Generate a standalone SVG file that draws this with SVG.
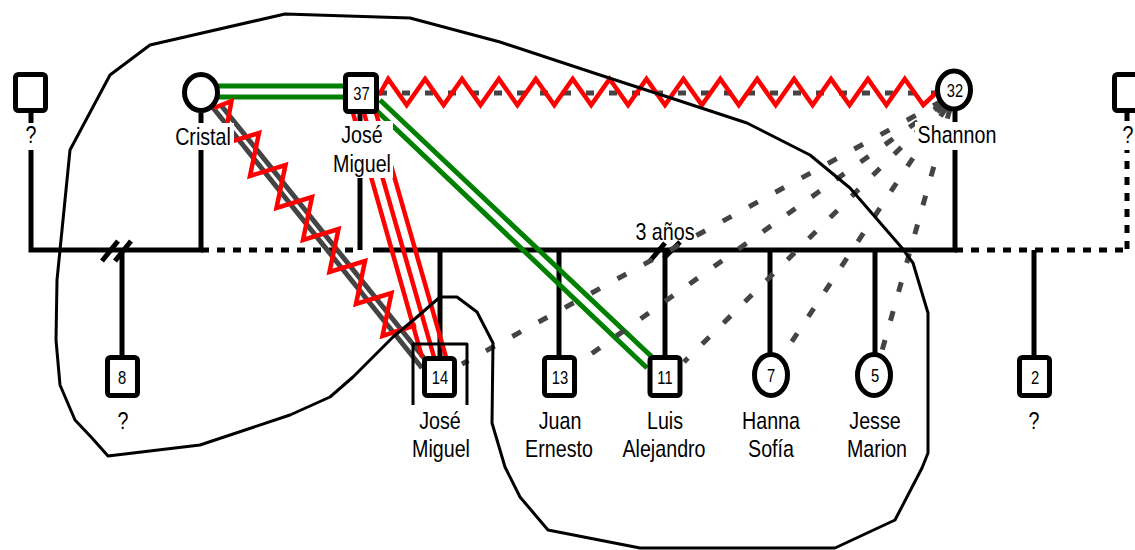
<svg xmlns="http://www.w3.org/2000/svg" width="1135" height="550" viewBox="0 0 1135 550">
<style>
.fam{fill:none;stroke:#000;stroke-width:5}
.dot{fill:none;stroke:#000;stroke-width:5;stroke-dasharray:8 8}
.green{fill:none;stroke:#008000;stroke-width:5}
.red{fill:none;stroke:#f00;stroke-width:4.5;stroke-linejoin:miter}
.gray{fill:none;stroke:#444;stroke-width:5}
.gdash{fill:none;stroke:#444;stroke-width:5;stroke-dasharray:10 20}
.hdash{fill:none;stroke:#444;stroke-width:5;stroke-dasharray:8 15}
.outline{fill:none;stroke:#000;stroke-width:3;stroke-linejoin:round}
.node{fill:#fff;stroke:#000;stroke-width:5}
.bg{fill:#fff}
.lbl{font-family:"Liberation Sans",Arial,sans-serif;font-size:24px;text-anchor:middle;fill:#000}
.num{font-family:"Liberation Sans",Arial,sans-serif;font-size:18px;text-anchor:middle;fill:#000}
</style>
<g id="connectors">
  <path class="fam" d="M31,113 V250 H201 V113"/>
  <path class="fam" d="M102,261 L118,241 M115,261 L131,241"/>
  <path class="fam" d="M122,250 V356"/>
  <path class="dot" d="M201,250 H360"/>
  <path class="fam" d="M360,113 V250"/>
  <path class="fam" d="M373,250 H955 V111"/>
  <path class="fam" d="M440,250 V357 M559,250 V356 M665,250 V356 M770,250 V356 M875,250 V356"/>
  <path class="fam" d="M650,261 L665,243 M664,258 L680,242"/>
  <path class="dot" d="M955,250 H1127"/>
  <path class="dot" d="M1127,113 V250"/>
  <path class="fam" d="M1034,250 V356"/>
  <path class="green" d="M215,86 H348 M215,97 H348"/>
  <path class="hdash" d="M379,93 H936"/>
  <path class="red" d="M379,95 L388.2,79 L406.7,105 L425.1,79 L443.6,105 L462,79 L480.5,105 L498.9,79 L517.4,105 L535.8,79 L554.3,105 L572.7,79 L591.2,105 L609.6,79 L628.1,105 L646.5,79 L665,105 L683.4,79 L701.9,105 L720.3,79 L738.8,105 L757.2,79 L775.7,105 L794.1,79 L812.6,105 L831,79 L849.5,105 L867.9,79 L886.4,105 L904.8,79 L923.3,105 L937,92"/>
  <path class="green" d="M380,100 L652,357 M376,110 L647,368"/>
  <path class="gray" d="M210,104 L422,368 M220,104 L432,368"/>
  <path class="red" d="M214,108 L231.5,101 L223.5,144 L259,133 L250,176 L285.5,165 L276.5,208 L312,197 L303,240 L338.5,229 L329.5,272 L365,261 L356,304 L391.5,293 L382.5,336 L416,325"/>
  <path class="red" d="M353,113 L422,357 M364,113 L434,357 M376,113 L446,357"/>
  <path class="gdash" d="M942,101 L462,364"/>
  <path class="gdash" d="M942,104 L580,362"/>
  <path class="gdash" d="M944,105 L684,362"/>
  <path class="gdash" d="M946,108 L785,352"/>
  <path class="gdash" d="M950,109 L880,358"/>
  <path class="outline" d="M150,45 L285,14 L410,18 L500,42 L600,75 L677,100 L747,123 L810,155 L850,188 L902,248 L913,263 L928,313 L928,453 L922,468 L895,520 L835,548 L640,548 L548,530 L520,497 L505,467 L492,423 L493,343 L477,312 L457,297 L440,297 L417,317 L393,337 L353,377 L330,397 L290,415 L200,445 L108,456 L92,438 L75,420 L60,385 L56,340 L57,280 L62,230 L68,170 L70,150 L110,75 Z"/>
</g>
<g id="n-unknown-left">
  <rect class="node" x="15.5" y="74.5" width="30" height="36" rx="3"/>
  <rect class="bg" x="22" y="123" width="18" height="27"/>
  <text class="lbl" transform="translate(31,143) scale(0.82,1)">?</text>
</g>
<g id="n-cristal">
  <ellipse class="node" cx="201" cy="92.5" rx="16.5" ry="18"/>
  <rect class="bg" x="173" y="123" width="61" height="27"/>
  <text class="lbl" transform="translate(203,145) scale(0.82,1)">Cristal</text>
</g>
<g id="n-jose-miguel-37">
  <rect class="node" x="345.5" y="74.5" width="31" height="37" rx="3"/>
  <text class="num" transform="translate(361.5,99.5) scale(0.82,1)">37</text>
  <rect class="bg" x="330" y="121" width="63" height="57"/>
  <text class="lbl" transform="translate(362,143) scale(0.82,1)">José</text>
  <text class="lbl" transform="translate(362,172) scale(0.82,1)">Miguel</text>
</g>
<g id="n-shannon">
  <ellipse class="node" cx="954" cy="90" rx="16.5" ry="19"/>
  <text class="num" transform="translate(955,97) scale(0.82,1)">32</text>
  <rect class="bg" x="915" y="122" width="84" height="28"/>
  <text class="lbl" transform="translate(957,143) scale(0.82,1)">Shannon</text>
</g>
<g id="n-unknown-right">
  <rect class="node" x="1114.5" y="74.5" width="30" height="36" rx="3"/>
  <rect class="bg" x="1119" y="123" width="18" height="27"/>
  <text class="lbl" transform="translate(1128,143) scale(0.82,1)">?</text>
</g>
<g id="n-8">
  <rect class="node" x="107.5" y="357.5" width="30" height="38" rx="3"/>
  <text class="num" transform="translate(122,383.5) scale(0.82,1)">8</text>
  <text class="lbl" transform="translate(123,429) scale(0.82,1)">?</text>
</g>
<g id="n-jose-miguel-14">
  <path class="outline" d="M413,405 V344 H467 V405"/>
  <rect class="node" x="424.5" y="358.5" width="30" height="37" rx="3"/>
  <text class="num" transform="translate(440,384) scale(0.82,1)">14</text>
  <text class="lbl" transform="translate(440,429) scale(0.82,1)">José</text>
  <text class="lbl" transform="translate(441,457) scale(0.82,1)">Miguel</text>
</g>
<g id="n-juan-ernesto">
  <rect class="node" x="544.5" y="357.5" width="30" height="38" rx="3"/>
  <text class="num" transform="translate(560,383.5) scale(0.82,1)">13</text>
  <text class="lbl" transform="translate(560,429) scale(0.82,1)">Juan</text>
  <text class="lbl" transform="translate(559,457) scale(0.82,1)">Ernesto</text>
</g>
<g id="n-luis-alejandro">
  <rect class="node" x="650" y="357.5" width="30" height="38" rx="3"/>
  <text class="num" transform="translate(665,383.5) scale(0.82,1)">11</text>
  <text class="lbl" transform="translate(665,429) scale(0.82,1)">Luis</text>
  <text class="lbl" transform="translate(664,457) scale(0.82,1)">Alejandro</text>
</g>
<g id="n-hanna-sofia">
  <ellipse class="node" cx="771" cy="375" rx="16.5" ry="20.5"/>
  <text class="num" transform="translate(771,382) scale(0.82,1)">7</text>
  <text class="lbl" transform="translate(771,429) scale(0.82,1)">Hanna</text>
  <text class="lbl" transform="translate(771,457) scale(0.82,1)">Sofía</text>
</g>
<g id="n-jesse-marion">
  <ellipse class="node" cx="874" cy="375" rx="16.5" ry="20.5"/>
  <text class="num" transform="translate(875,382) scale(0.82,1)">5</text>
  <text class="lbl" transform="translate(875,429) scale(0.82,1)">Jesse</text>
  <text class="lbl" transform="translate(877,457) scale(0.82,1)">Marion</text>
</g>
<g id="n-2">
  <rect class="node" x="1019.5" y="357.5" width="30" height="38" rx="3"/>
  <text class="num" transform="translate(1035,383.5) scale(0.82,1)">2</text>
  <text class="lbl" transform="translate(1034,429) scale(0.82,1)">?</text>
</g>
<g id="label-3-anos">
  <text class="lbl" transform="translate(665,240) scale(0.82,1)">3 años</text>
</g>
</svg>
